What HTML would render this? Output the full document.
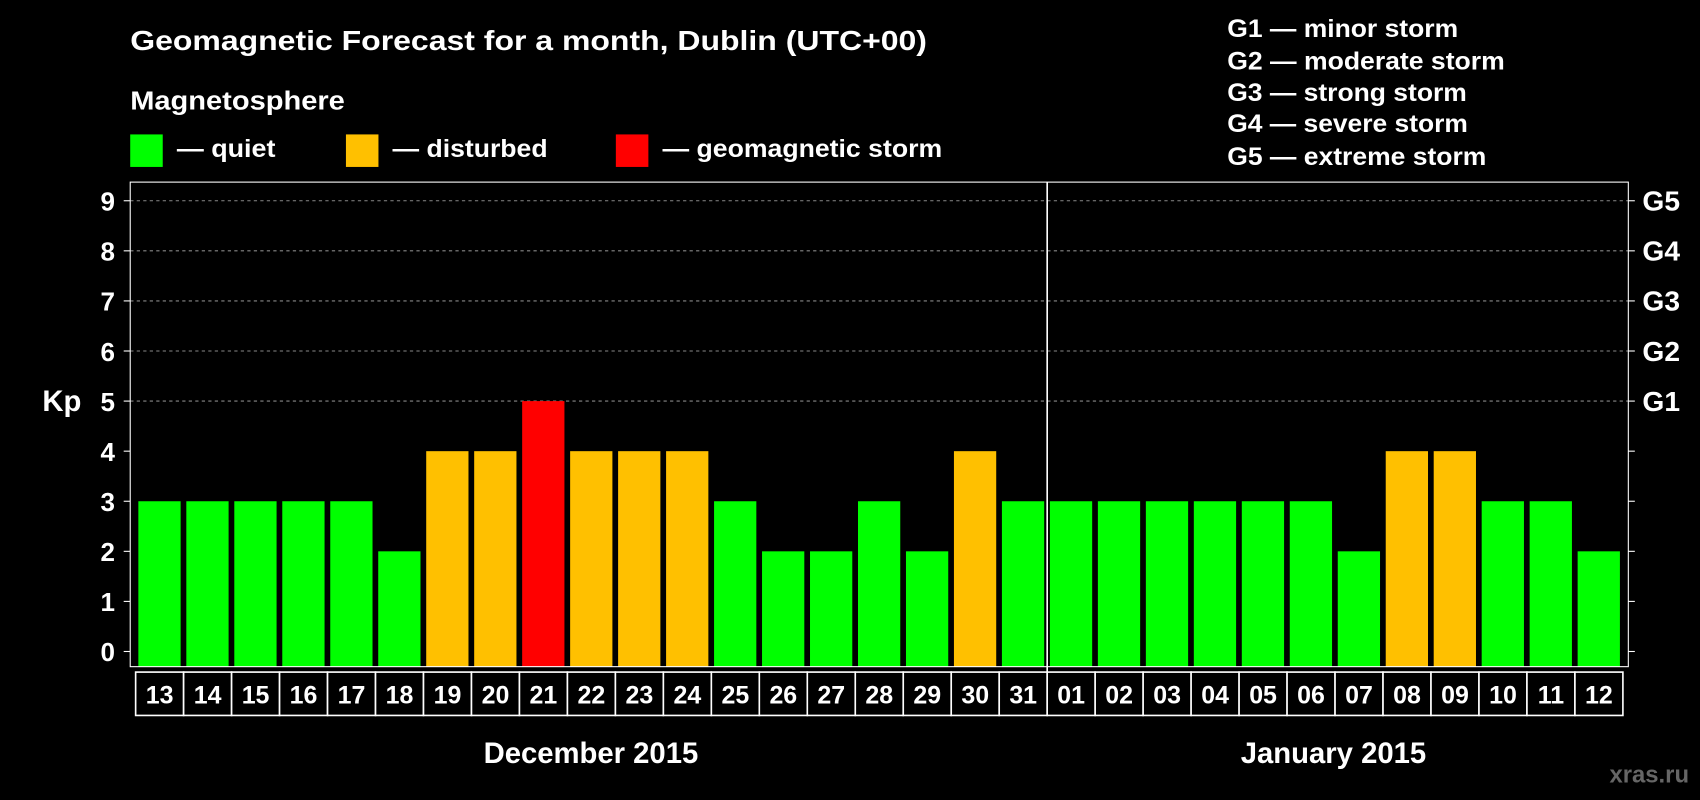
<!DOCTYPE html>
<html><head><meta charset="utf-8"><style>
html,body{margin:0;padding:0;background:#000;}
svg{display:block;font-family:"Liberation Sans",Arial,sans-serif;font-weight:bold;}
</style></head><body>
<svg id="chart" width="1700" height="800" viewBox="0 0 1568 738" xmlns="http://www.w3.org/2000/svg">
<rect x="0" y="0" width="1568" height="738" fill="#000"/>
<text x="120" y="46" fill="#fff" font-size="26" textLength="735" lengthAdjust="spacingAndGlyphs">Geomagnetic Forecast for a month, Dublin (UTC+00)</text>
<text x="120" y="101" fill="#fff" font-size="24" textLength="198" lengthAdjust="spacingAndGlyphs">Magnetosphere</text>
<g><rect x="120" y="124" width="30" height="30" fill="#00ff00"/><text x="163" y="145" fill="#fff" font-size="23" textLength="91" lengthAdjust="spacingAndGlyphs">— quiet</text></g>
<g><rect x="319" y="124" width="30" height="30" fill="#ffc000"/><text x="362" y="145" fill="#fff" font-size="23" textLength="143" lengthAdjust="spacingAndGlyphs">— disturbed</text></g>
<g><rect x="568" y="124" width="30" height="30" fill="#ff0000"/><text x="611" y="145" fill="#fff" font-size="23" textLength="258" lengthAdjust="spacingAndGlyphs">— geomagnetic storm</text></g>
<g fill="#fff" font-size="23" lengthAdjust="spacingAndGlyphs">
<text x="1132" y="34" textLength="213" lengthAdjust="spacingAndGlyphs">G1 — minor storm</text>
<text x="1132" y="64" textLength="256" lengthAdjust="spacingAndGlyphs">G2 — moderate storm</text>
<text x="1132" y="93" textLength="221" lengthAdjust="spacingAndGlyphs">G3 — strong storm</text>
<text x="1132" y="122" textLength="222" lengthAdjust="spacingAndGlyphs">G4 — severe storm</text>
<text x="1132" y="152" textLength="239" lengthAdjust="spacingAndGlyphs">G5 — extreme storm</text>
</g>
<text x="39" y="379" fill="#fff" font-size="27">Kp</text>
<g id="grid"></g>
<g id="bars"></g>
<g id="axes"></g>
<text x="545" y="704" fill="#fff" font-size="27" text-anchor="middle">December 2015</text>
<text x="1230" y="704" fill="#fff" font-size="27" text-anchor="middle">January 2015</text>
<text x="1558" y="722" fill="#666" font-size="22" text-anchor="end">xras.ru</text>
</svg>
<script>
const days = ["13","14","15","16","17","18","19","20","21","22","23","24","25","26","27","28","29","30","31","01","02","03","04","05","06","07","08","09","10","11","12"];
const kpValues = [3,3,3,3,3,2,4,4,5,4,4,4,3,2,2,3,2,4,3,3,3,3,3,3,3,2,4,4,3,3,2];
const yTicks = [0,1,2,3,4,5,6,7,8,9];
const gLabels = ["G1","G2","G3","G4","G5"];
const gLevels = [5,6,7,8,9];
const monthBreakIndex = 19;

const NS="http://www.w3.org/2000/svg";
const left=125, n=days.length, slot=(1497-125)/n, barW=39;
const plotL=120, plotR=1502, plotT=168, plotB=615;
function y(v){return 601-v*46.2;}
function x(i){return left+i*slot;}
function mk(tag,attrs,parent){const e=document.createElementNS(NS,tag);for(const k in attrs)e.setAttribute(k,attrs[k]);parent.appendChild(e);return e;}
const grid=document.getElementById('grid'),bars=document.getElementById('bars'),axes=document.getElementById('axes');

gLevels.forEach((v,i)=>{
  const l=mk('line',{x1:plotL,x2:plotR,y1:y(v),y2:y(v),stroke:'#888','stroke-dasharray':'3,3','stroke-width':1},grid);
  
  
  const t=mk('text',{x:plotR+13,y:y(v)+9,fill:'#fff','font-size':26},axes);
  t.textContent=gLabels[i];
  
  
});

kpValues.forEach((v,i)=>{
  const c=v>=5?'#ff0000':(v>=4?'#ffc000':'#00ff00');
  const r=mk('rect',{x:x(i)+2.5,y:y(v),width:barW,height:y(0)+14-y(v),fill:c},bars);
  
  
});

const frame=mk('rect',{x:plotL,y:plotT,width:plotR-plotL,height:plotB-plotT,fill:'none',stroke:'#fff','stroke-width':1},axes);



yTicks.forEach(v=>{
  mk('line',{x1:plotL-6,x2:plotL,y1:y(v),y2:y(v),stroke:'#fff'},axes);
  mk('line',{x1:plotR,x2:plotR+6,y1:y(v),y2:y(v),stroke:'#fff'},axes);
  const t=mk('text',{x:106,y:y(v)+9,fill:'#fff','font-size':24,'text-anchor':'end'},axes);
  t.textContent=v;
  
  
});

const div=mk('line',{x1:x(monthBreakIndex),x2:x(monthBreakIndex),y1:plotT,y2:660,stroke:'#fff','stroke-width':1.5},axes);



for(let i=0;i<n;i++){
  const r=mk('rect',{x:x(i),y:620,width:slot,height:40,fill:'#000',stroke:'#fff','stroke-width':1.5},axes);
  
  
  const t=mk('text',{x:x(i)+slot/2,y:649,fill:'#fff','font-size':23,'text-anchor':'middle'},axes);
  t.textContent=days[i];
  
  
}
</script>
</body></html>
